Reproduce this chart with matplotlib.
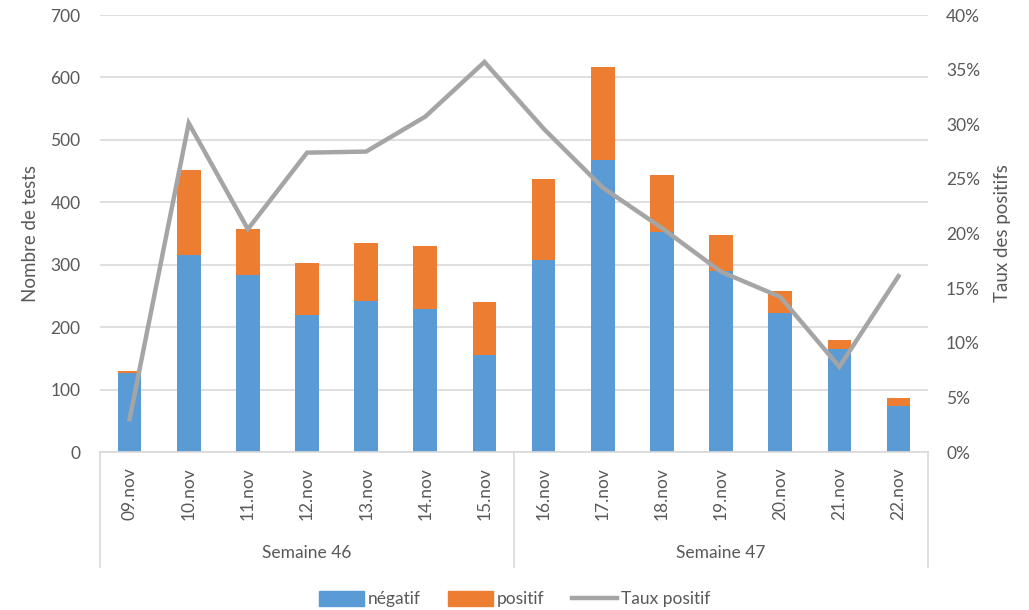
import matplotlib.pyplot as plt
import matplotlib.transforms as mtransforms
from matplotlib.patches import Patch
from matplotlib.lines import Line2D
from matplotlib.ticker import PercentFormatter

plt.rcParams['font.family'] = ['Lato', 'DejaVu Sans']

# données
jours = ['09.nov', '10.nov', '11.nov', '12.nov', '13.nov', '14.nov', '15.nov',
         '16.nov', '17.nov', '18.nov', '19.nov', '20.nov', '21.nov', '22.nov']
negatif = [126, 316, 284, 220, 242, 229, 155, 308, 467, 352, 290, 222, 165, 73]
positif = [4, 136, 73, 83, 92, 101, 86, 129, 149, 91, 58, 36, 14, 14]
taux = [0.030, 0.301, 0.204, 0.274, 0.275, 0.307, 0.357,
        0.296, 0.242, 0.205, 0.165, 0.142, 0.078, 0.161]
semaines = ['Semaine 46', 'Semaine 47']
jours_par_semaine = [7, 7]

bleu = '#5B9BD5'
orange = '#ED7D31'
gris = '#A5A5A5'
texte = '#595959'
grille = '#D9D9D9'

fig = plt.figure(figsize=(10.29, 6.1), dpi=100)
ax = fig.add_axes([0.0972, 0.259, 0.8047, 0.7164])

x = list(range(len(jours)))
ax.bar(x, negatif, width=0.4, color=bleu, zorder=2)
ax.bar(x, positif, width=0.4, bottom=negatif, color=orange, zorder=2)

ax.set_xlim(-0.5, len(jours) - 0.5)
ax.set_ylim(0, 700)
ax.set_yticks(range(0, 701, 100))
ax.yaxis.grid(True, color=grille, linewidth=1.2)
ax.set_axisbelow(True)
for s in ['top', 'right', 'left']:
    ax.spines[s].set_visible(False)
ax.spines['bottom'].set_color(grille)
ax.spines['bottom'].set_linewidth(1.2)
ax.tick_params(axis='y', length=0, pad=14, labelsize=12.5, labelcolor=texte)
ax.set_xticks(x)
ax.set_xticklabels(jours, rotation=90, fontsize=12.5, color=texte)
ax.tick_params(axis='x', length=0, pad=11)
ax.set_ylabel('Nombre de tests', fontsize=13.5, color=texte, labelpad=8)

# axe secondaire : taux de positifs
ax2 = ax.twinx()
ax2.plot(x, taux, color=gris, linewidth=3.2, solid_joinstyle='miter', zorder=3)
ax2.set_ylim(0, 0.4)
ax2.set_yticks([i * 0.05 for i in range(9)])
ax2.yaxis.set_major_formatter(PercentFormatter(1.0, decimals=0))
for s in ax2.spines.values():
    s.set_visible(False)
ax2.tick_params(axis='y', length=0, pad=13, labelsize=12.5, labelcolor=texte)
ax2.set_ylabel('Taux des positifs', fontsize=13.5, color=texte, labelpad=10, rotation=90)

# séparateurs et libellés des semaines
trans = mtransforms.blended_transform_factory(ax.transData, ax.transAxes)
debut = -0.5
ax.plot([debut, debut], [0, -0.263], transform=trans, color=grille, lw=1.2, clip_on=False)
for nom, n in zip(semaines, jours_par_semaine):
    fin = debut + n
    ax.plot([fin, fin], [0, -0.263], transform=trans, color=grille, lw=1.2, clip_on=False)
    ax.text((debut + fin) / 2, -0.232, nom, transform=trans, ha='center', va='center',
            fontsize=12.5, color=texte)
    debut = fin

handles = [Patch(color=bleu), Patch(color=orange), Line2D([], [], color=gris, lw=3.2)]
fig.legend(handles, ['négatif', 'positif', 'Taux positif'], loc='center',
           bbox_to_anchor=(0.5, 0.018), ncol=3, frameon=False, fontsize=12.5,
           labelcolor=texte, handlelength=2.6, handleheight=1.0, handletextpad=0.2,
           columnspacing=1.6)

fig.savefig('out.png', dpi=100)
